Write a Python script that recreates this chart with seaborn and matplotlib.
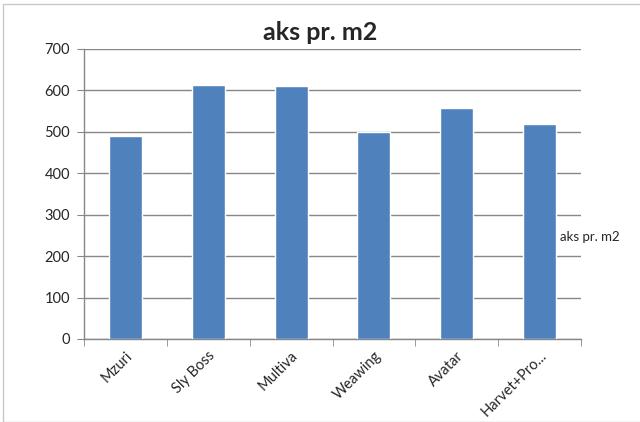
import numpy as np
import pandas as pd
import matplotlib
matplotlib.use("Agg")
import matplotlib.pyplot as plt
import seaborn as sns
from matplotlib.patches import Rectangle

# datos
sortes = ['Mzuri', 'Sly Boss', 'Multiva', 'Weawing', 'Avatar', 'Harvet+Pro...']
aks = [490, 614, 611, 500, 558, 518]
y_ticks = [0, 100, 200, 300, 400, 500, 600, 700]

df = pd.DataFrame({'sort': sortes, 'aks pr. m2': aks})

sns.set_style('white')
plt.rcParams['font.family'] = ['Lato', 'DejaVu Sans']

fig = plt.figure(figsize=(6.4, 4.22), dpi=100)
ax = fig.add_axes([84 / 640, 1 - 339 / 422, (581 - 84) / 640, (339 - 49) / 422])

sns.barplot(data=df, x='sort', y='aks pr. m2', color='#4F81BD', width=0.4,
            saturation=1, ax=ax, zorder=3)

ax.set_ylim(0, 700)
ax.set_xlim(-0.5, len(sortes) - 0.5)
ax.set_yticks(y_ticks)
ax.set_yticklabels([str(v) for v in y_ticks], fontsize=10.5)
ax.yaxis.grid(True, color='#878787', linewidth=1, zorder=0)
ax.set_xlabel('')
ax.set_ylabel('')

ax.set_xticks(range(len(sortes)))
ax.set_xticklabels(sortes, rotation=45, ha='right', rotation_mode='anchor', fontsize=10.5)
ax.set_xticks(np.arange(-0.5, len(sortes), 1), minor=True)
ax.tick_params(axis='x', which='major', length=0, pad=7)
ax.tick_params(axis='x', which='minor', length=5, color='#878787', direction='out', bottom=True)
ax.tick_params(axis='y', length=5, color='#878787', direction='out', left=True, pad=5)

for s in ['top', 'right']:
    ax.spines[s].set_visible(False)
for s in ['left', 'bottom']:
    ax.spines[s].set_color('#878787')
    ax.spines[s].set_linewidth(1)

fig.text(320 / 640, 1 - 33 / 422, 'aks pr. m2', ha='center', va='center',
         fontsize=18, fontweight='bold')
fig.text(560 / 640, 1 - 237 / 422, 'aks pr. m2', ha='left', va='center', fontsize=9.5)

# marco del area del grafico
fig.patches.append(Rectangle((3 / 640, 0), 1, 1 - 4 / 422, transform=fig.transFigure,
                             fill=False, edgecolor='#c8c8c8', linewidth=1))

fig.savefig('out.png', dpi=100)
